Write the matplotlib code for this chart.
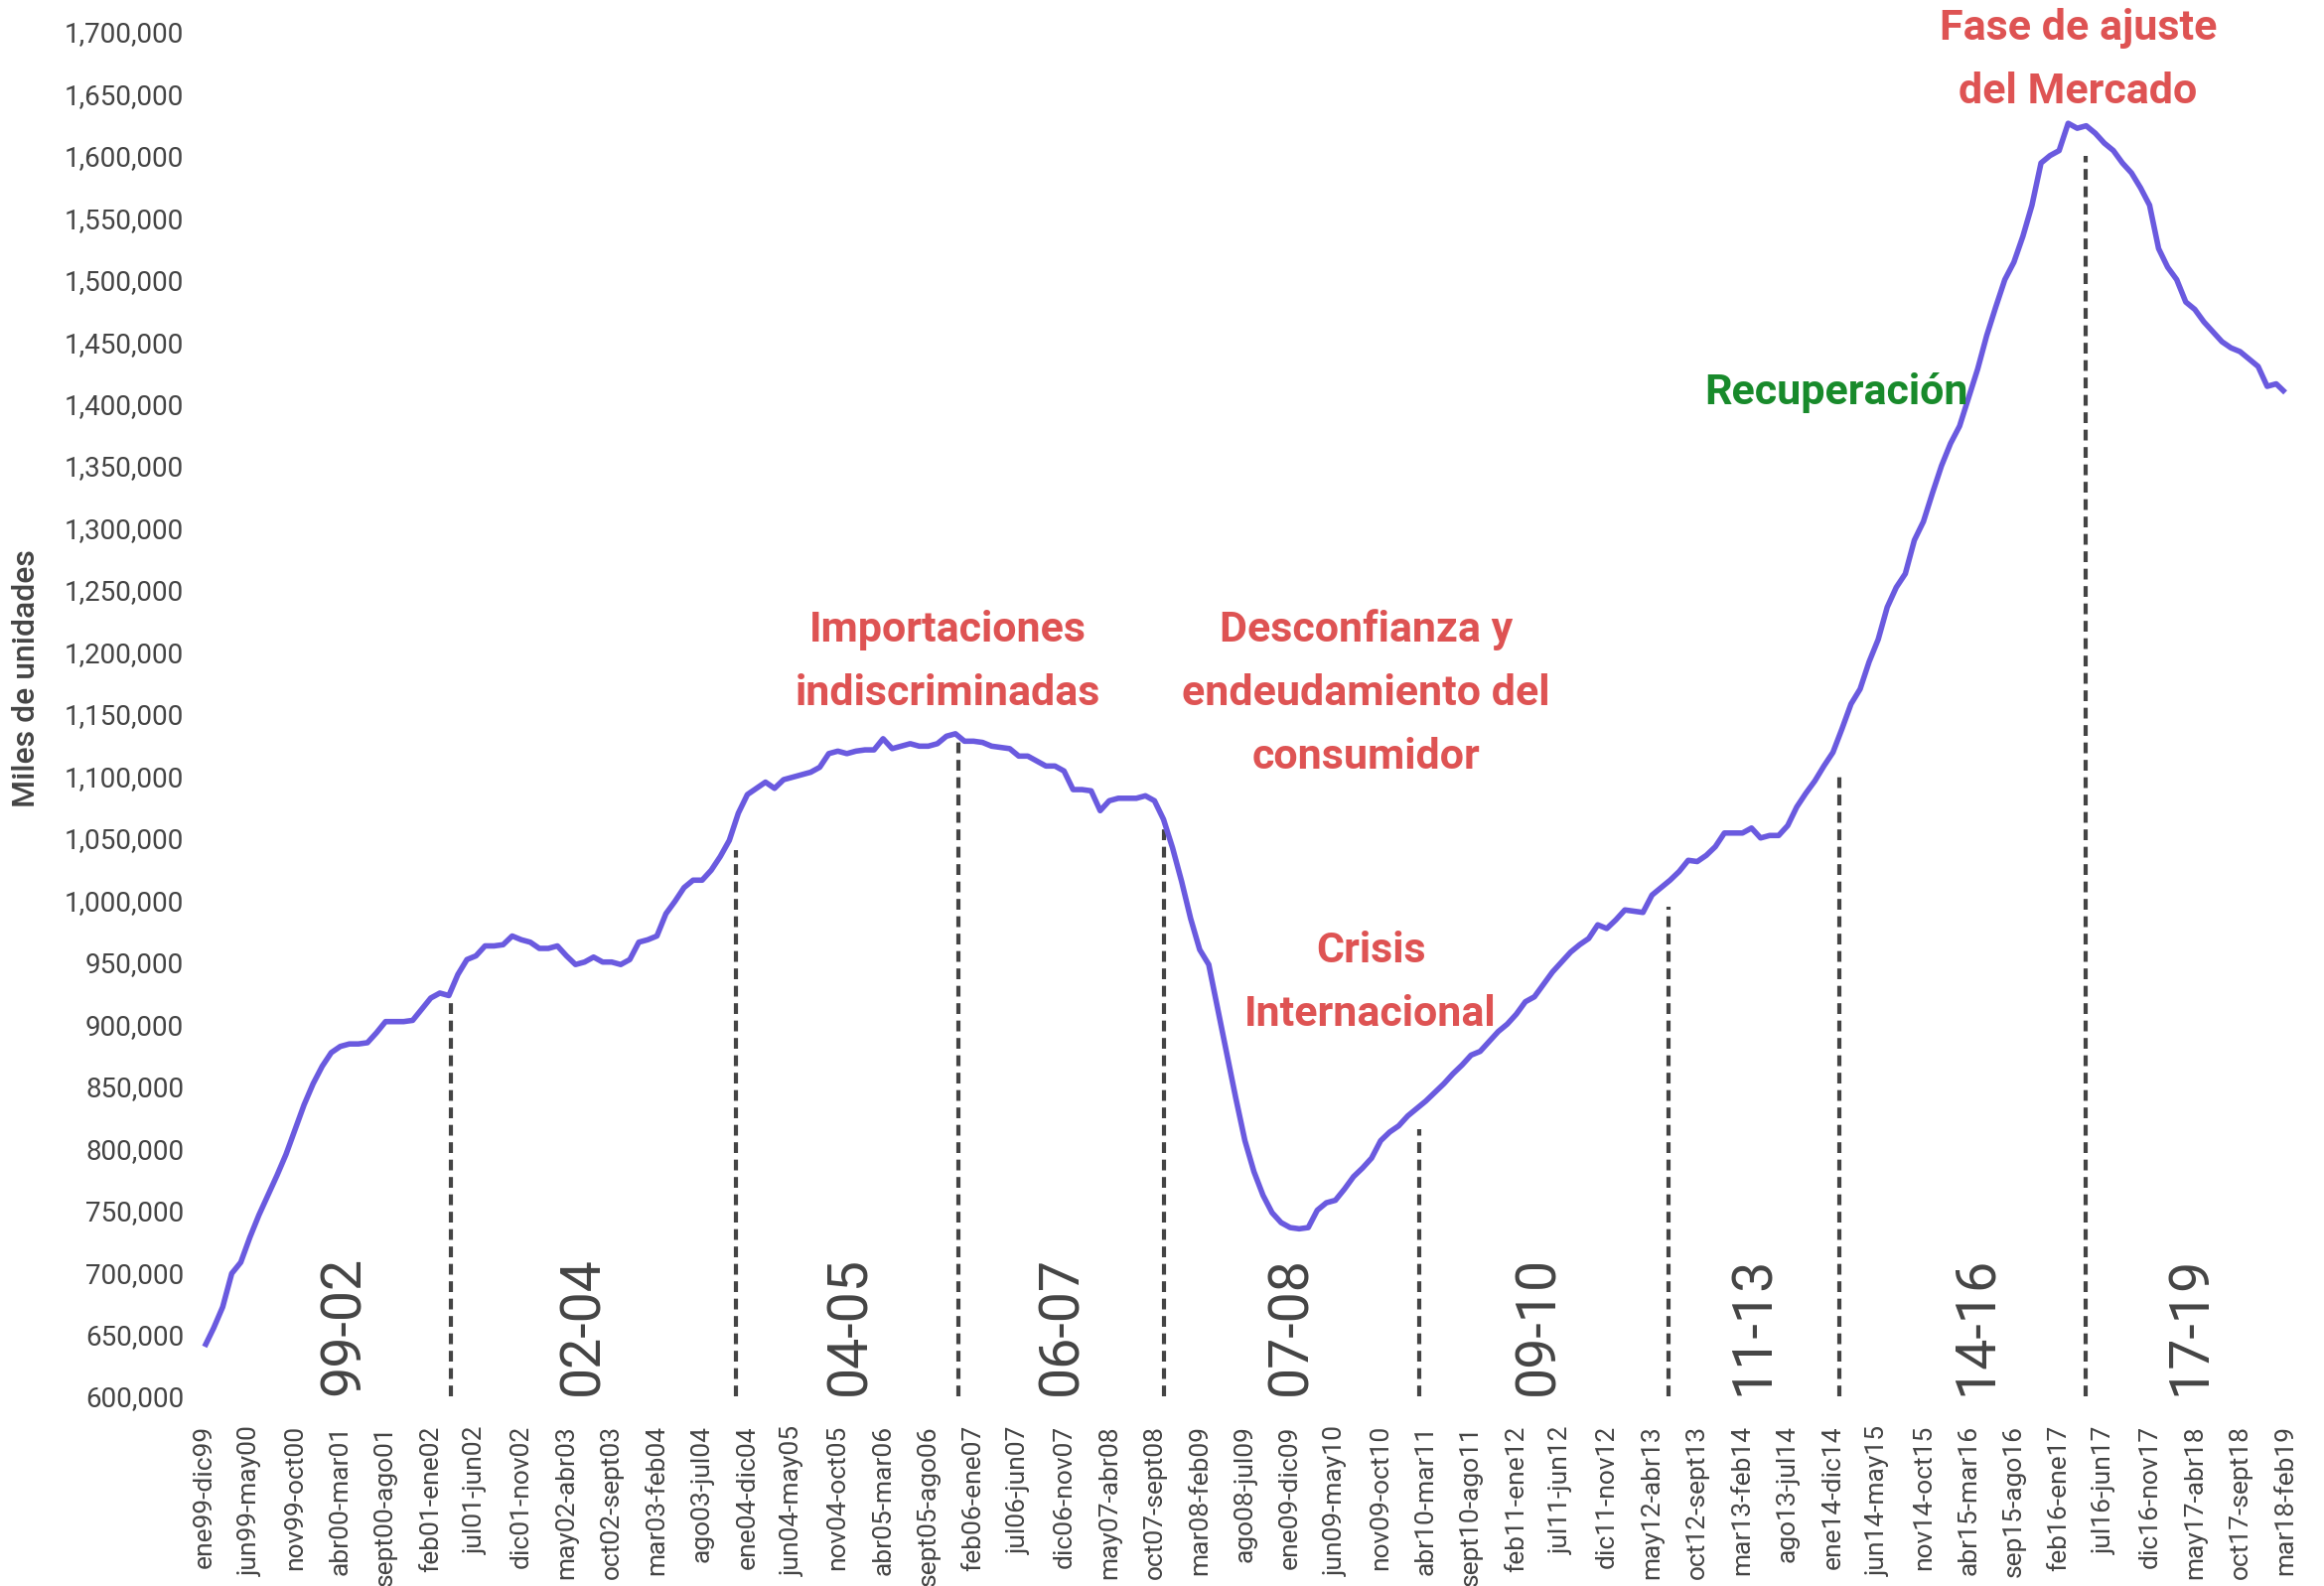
import matplotlib
matplotlib.use("Agg")
import matplotlib.pyplot as plt
from matplotlib.ticker import FuncFormatter

plt.rcParams['font.family'] = ['Roboto', 'DejaVu Sans']

# ---------------- data ----------------
month_labels = [
    "ene99-dic99", "jun99-may00", "nov99-oct00", "abr00-mar01", "sept00-ago01",
    "feb01-ene02", "jul01-jun02", "dic01-nov02", "may02-abr03", "oct02-sept03",
    "mar03-feb04", "ago03-jul04", "ene04-dic04", "jun04-may05", "nov04-oct05",
    "abr05-mar06", "sept05-ago06", "feb06-ene07", "jul06-jun07", "dic06-nov07",
    "may07-abr08", "oct07-sept08", "mar08-feb09", "ago08-jul09", "ene09-dic09",
    "jun09-may10", "nov09-oct10", "abr10-mar11", "sept10-ago11", "feb11-ene12",
    "jul11-jun12", "dic11-nov12", "may12-abr13", "oct12-sept13", "mar13-feb14",
    "ago13-jul14", "ene14-dic14", "jun14-may15", "nov14-oct15", "abr15-mar16",
    "sep15-ago16", "feb16-ene17", "jul16-jun17", "dic16-nov17", "may17-abr18",
    "oct17-sept18", "mar18-feb19",
]
label_step = 5  # one label every 5 monthly points

# rolling 12-month sales, thousands of units (one value per month)
values_k = [
    640, 655, 672, 699, 708, 728, 746, 762, 778, 795,
    815, 835, 852, 866, 877, 882, 884, 884, 885, 893,
    902, 902, 902, 903, 912, 921, 925, 923, 940, 952,
    955, 963, 963, 964, 971, 968, 966, 961, 961, 963,
    955, 948, 950, 954, 950, 950, 948, 952, 966, 968,
    971, 989, 999, 1010, 1016, 1016, 1024, 1035, 1048, 1070,
    1085, 1090, 1095, 1090, 1097, 1099, 1101, 1103, 1107, 1118,
    1120, 1118, 1120, 1121, 1121, 1130, 1122, 1124, 1126, 1124,
    1124, 1126, 1132, 1134, 1128, 1128, 1127, 1124, 1123, 1122,
    1116, 1116, 1112, 1108, 1108, 1104, 1089, 1089, 1088, 1072,
    1080, 1082, 1082, 1082, 1084, 1080, 1065, 1042, 1015, 985,
    960, 948, 912, 876, 840, 806, 781, 762, 748, 740,
    736, 735, 736, 750, 756, 758, 767, 777, 784, 792,
    806, 813, 818, 826, 832, 838, 845, 852, 860, 867,
    875, 878, 886, 894, 900, 908, 918, 922, 932, 942,
    950, 958, 964, 969, 980, 977, 984, 992, 991, 990,
    1004, 1010, 1016, 1023, 1032, 1031, 1036, 1043, 1054, 1054,
    1054, 1058, 1050, 1052, 1052, 1060, 1075, 1086, 1096, 1108,
    1119, 1138, 1158, 1170, 1192, 1210, 1236, 1252, 1263, 1290,
    1305, 1328, 1350, 1368, 1382, 1405, 1428, 1455, 1478, 1500,
    1514, 1535, 1560, 1594, 1600, 1604, 1626, 1622, 1624, 1618,
    1610, 1604, 1594, 1586, 1574, 1560, 1525, 1510, 1500, 1482,
    1476, 1466, 1458, 1450, 1445, 1442, 1436, 1430, 1414, 1416,
    1409,
]
values = [v * 1000 for v in values_k]

# period separators (month position, top value) and period names
sep_pos = [27.2, 58.7, 83.3, 106.1, 134.3, 161.8, 180.7, 207.9]
sep_top = [921000, 1040000, 1130000, 1060000, 815000, 995000, 1103000, 1600000]
period_names = ["99-02", "02-04", "04-05", "06-07", "07-08", "09-10", "11-13", "14-16", "17-19"]
period_pos = [15.4, 41.8, 71.4, 94.7, 120.1, 147.4, 171.2, 195.8, 219.5]

# annotations: text, x (month), y (value), colour
notes = [
    ("Importaciones\nindiscriminadas", 82.2, 1192000, "#DE5353"),
    ("Desconfianza y\nendeudamiento del\nconsumidor", 128.4, 1167000, "#DE5353"),
    ("Crisis\nInternacional", 128.9, 933000, "#DE5353"),
    ("Fase de ajuste\ndel Mercado", 207.1, 1677000, "#DE5353"),
    ("Recuperación", 180.4, 1409000, "#188A2B"),
]

y_ticks = list(range(600000, 1700001, 50000))

# ---------------- figure ----------------
W, H = 2340, 1597
fig = plt.figure(figsize=(W / 100, H / 100), dpi=100)
ax = fig.add_axes([195 / W, (H - 1406) / H, (2320 - 195) / W, (1406 - 31.7) / H])

x = list(range(len(values)))
ax.plot(x, values, color="#6A5ADF", lw=4.0, solid_joinstyle="round",
        solid_capstyle="butt", zorder=3)

ax.vlines(sep_pos, 600000, sep_top, colors="#444444", linestyles=(0, (2.6, 1.6)),
          lw=3.0, zorder=2)

for name, px in zip(period_names, period_pos):
    ax.text(px, 601000, name, rotation=90, ha="center", va="bottom",
            fontsize=40, color="#444444")

for txt, nx, ny, col in notes:
    ax.text(nx, ny, txt, ha="center", va="center", fontsize=31,
            fontweight="bold", color=col, linespacing=1.72)

ax.set_xlim(-(206 - 195) / 9.109, 230 + (2320 - 2301) / 9.109)
ax.set_ylim(600000, 1700000)

ax.set_yticks(y_ticks)
ax.yaxis.set_major_formatter(FuncFormatter(lambda v, p: f"{int(v):,}"))
ax.set_xticks(list(range(0, len(values), label_step)))
ax.set_xticklabels(month_labels, rotation=90)

ax.tick_params(axis="y", length=0, pad=7, labelsize=20, labelcolor="#444444")
ax.tick_params(axis="x", length=0, pad=21, labelsize=19, labelcolor="#444444")
for lab in ax.get_xticklabels():
    lab.set_va("top")

fig.text(27 / W, 1 - 683 / H, "Miles de unidades", rotation=90, ha="center",
         va="center", fontsize=23, fontweight="medium", color="#444444")
for s in ax.spines.values():
    s.set_visible(False)

fig.savefig("out.png", dpi=100, facecolor="white")
